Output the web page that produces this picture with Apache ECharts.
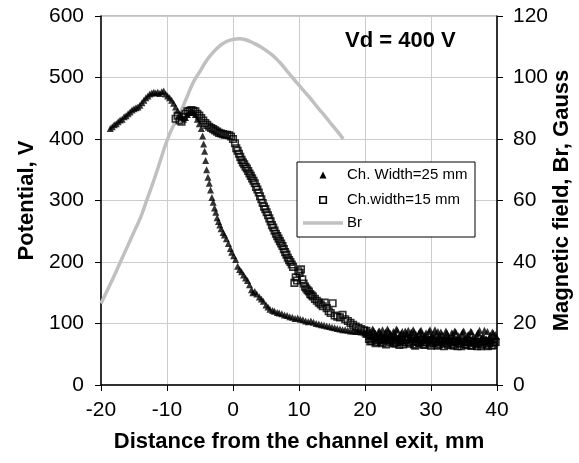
<!DOCTYPE html>
<html>
<head>
<meta charset="utf-8">
<script src="https://cdn.jsdelivr.net/npm/echarts@6/dist/echarts.min.js"></script>
<style>html,body{margin:0;padding:0;background:#fff;}#c{width:579px;height:463px;}</style>
</head>
<body>
<div id="c"></div>
<script>
// Ch. Width=25 mm : [distance mm, potential V]
var ch25 = [
[-18.6,417],[-18.3,420],[-18.0,423],[-17.7,425],[-17.4,428],[-17.1,431],[-16.8,432],[-16.5,436],[-16.2,438],[-15.9,441],
[-15.6,444],[-15.3,447],[-15.0,449],[-14.7,451],[-14.4,452],[-14.1,455],[-13.8,459],[-13.5,463],[-13.2,467],[-12.9,470],
[-12.6,473],[-12.3,475],[-12.0,476],[-11.7,475],[-11.4,476],[-11.1,474],[-10.8,477],[-10.5,478],[-10.2,473],[-9.9,470],
[-9.6,467],[-9.3,463],[-9.0,458],[-8.7,452],[-8.4,446],[-8.1,440],[-7.8,436],[-7.5,432],[-7.2,435],[-6.9,440],
[-6.6,443],[-6.3,444],[-6.0,443],[-5.7,440],[-5.4,432],[-5.1,425],[-4.8,417],[-4.6,405],[-4.45,392],[-4.3,380],
[-4.15,365],[-4.0,350],[-3.8,338],[-3.6,328],[-3.4,317],[-3.2,305],[-3.0,297],[-2.8,288],[-2.6,281],[-2.4,272],
[-2.2,266],[-2.0,260],[-1.8,254],[-1.5,248],[-1.3,244],[-1.0,238],[-0.7,230],[-0.4,222],[-0.2,216],[0.1,210],
[0.4,204],[0.7,193],[1.0,188],[1.3,184],[1.6,179],[1.9,174],[2.2,170],[2.5,163],[2.8,155],[3.0,150],
[3.3,152],[3.6,148],[4.0,143],[4.3,140],[4.6,136],[5.0,130],[5.3,127],[5.6,123],[6.0,121],[6.3,120],
[6.7,118],[7.0,117],[7.4,116],[7.8,114],[8.2,113],[8.6,111],[9.0,110],[9.4,108],[9.8,109],[10.2,107],
[10.6,106],[11.0,104],[11.4,103],[11.8,104],[12.2,102],[12.6,100],[13.0,99],[13.4,98],[13.8,97],[14.2,96],
[14.6,95],[15.0,94],[15.4,93],[15.8,92],[16.2,91],[16.6,90],[17.0,90],[17.4,89],[17.8,88],[18.2,88],
[18.6,87],[19.0,87],[19.4,86],
[19.8,86],[20.1,82],[20.4,90],[20.7,85],[21.0,80],[21.3,89],[21.6,84],[21.9,79],[22.2,88],[22.5,83],
[22.8,78],[23.1,86],[23.4,91],[23.7,81],[24.0,77],[24.3,87],[24.6,80],[24.9,89],[25.2,76],[25.5,84],
[25.8,79],[26.1,88],[26.4,82],[26.7,75],[27.0,86],[27.3,90],[27.6,78],[27.9,77],[28.2,85],[28.5,89],
[28.8,76],[29.1,81],[29.4,74],[29.7,87],[30.0,79],[30.3,83],[30.6,90],[30.9,75],[31.2,80],[31.5,86],
[31.8,73],[32.1,79],[32.4,85],[32.7,77],[33.0,73],[33.3,83],[33.6,88],[33.9,75],[34.2,80],[34.5,72],
[34.8,86],[35.1,77],[35.4,74],[35.7,82],[36.0,87],[36.3,75],[36.6,72],[36.9,80],[37.2,85],[37.5,74],
[37.8,78],[38.1,89],[38.4,75],[38.7,72],[39.0,81],[39.3,86],[39.6,73],[39.9,79],
[19.95,84],[20.25,88],[20.55,79],[20.85,86],[21.15,91],[21.45,82],[21.75,77],[22.05,87],[22.35,83],[22.65,90],
[22.95,80],[23.25,76],[23.55,88],[23.85,84],[24.15,79],[24.45,85],[24.75,91],[25.05,78],[25.35,82],[25.65,87],
[25.95,75],[26.25,84],[26.55,89],[26.85,80],[27.15,77],[27.45,86],[27.75,82],[28.05,74],[28.35,88],[28.65,83],
[28.95,79],[29.25,85],[29.55,76],[29.85,90],[30.15,81],[30.45,74],[30.75,84],[31.05,87],[31.35,78],[31.65,82],
[31.95,75],[32.25,88],[32.55,80],[32.85,73],[33.15,85],[33.45,79],[33.75,86],[34.05,76],[34.35,74],[34.65,83],
[34.95,88],[35.25,77],[35.55,81],[35.85,73],[36.15,86],[36.45,79],[36.75,75],[37.05,84],[37.35,89],[37.65,76],
[37.95,80],[38.25,74],[38.55,87],[38.85,78],[39.15,73],[39.45,84],[39.75,82]
];
// Ch.width=15 mm : [distance mm, potential V]
var ch15 = [
[-8.7,433],[-8.4,438],[-8.1,430],[-7.8,428],[-7.5,436],[-7.2,441],[-6.9,445],[-6.6,446],[-6.3,447],[-6.0,446],
[-5.7,445],[-5.4,441],[-5.1,438],[-4.8,434],[-4.5,430],[-4.2,426],[-3.9,423],[-3.6,420],[-3.3,418],[-3.0,416],
[-2.7,414],[-2.4,412],[-2.1,410],[-1.8,409],[-1.5,408],[-1.2,407],[-0.9,407],[-0.6,406],[-0.3,404],[0.0,400],
[0.3,393],[0.5,385],[0.7,381],[0.9,376],[1.1,371],[1.3,366],[1.5,362],[1.7,359],[1.9,355],[2.1,352],
[2.3,348],[2.5,344],[2.7,340],[2.9,336],[3.1,332],[3.3,328],[3.5,322],[3.7,318],[3.9,313],[4.1,307],
[4.3,302],[4.5,296],[4.7,290],[4.9,286],[5.1,281],[5.3,276],[5.5,271],[5.7,266],[5.9,260],[6.1,256],
[6.3,251],[6.5,246],[6.7,242],[6.9,238],[7.1,234],[7.3,230],[7.5,226],[7.7,221],[7.9,216],[8.1,212],
[8.3,207],[8.5,203],[8.7,200],[8.9,196],[9.1,192],[9.3,166],[9.5,175],[9.7,170],[9.9,185],[10.1,182],
[10.3,188],[10.5,172],[10.7,165],[10.9,160],[11.1,157],[11.3,154],[11.5,152],[11.7,148],[11.9,146],[12.1,144],
[12.4,140],[12.7,137],[13.0,134],[13.3,131],[13.6,128],[13.9,134],[14.2,125],[14.5,120],[14.8,117],[15.1,133],
[15.4,113],[15.8,111],[16.2,110],[16.6,114],[17.0,107],[17.4,104],[17.8,101],[18.2,98],[18.6,95],[19.0,93],
[19.4,91],[19.8,89],[20.2,88],
[20.6,75],[21.0,72],[21.4,77],[21.8,70],[22.2,74],[22.6,68],[23.0,73],[23.4,76],[23.8,69],[24.2,72],
[24.6,67],[25.0,74],[25.4,71],[25.8,66],[26.2,73],[26.6,69],[27.0,75],[27.4,66],[27.8,71],[28.2,68],
[28.6,73],[29.0,65],[29.4,70],[29.8,67],[30.2,72],[30.6,69],[31.0,64],[31.4,71],[31.8,67],[32.2,72],
[32.6,65],[33.0,69],[33.4,64],[33.8,71],[34.2,68],[34.6,63],[35.0,70],[35.4,66],[35.8,71],[36.2,64],
[36.6,68],[37.0,63],[37.4,70],[37.8,66],[38.2,71],[38.6,63],[39.0,69],[39.4,65],[39.8,70],
[20.8,71],[21.2,76],[21.6,68],[22.0,73],[22.4,70],[22.8,75],[23.2,66],[23.6,72],[24.0,74],[24.4,68],
[24.8,70],[25.2,65],[25.6,73],[26.0,69],[26.4,75],[26.8,67],[27.2,71],[27.6,64],[28.0,70],[28.4,72],
[28.8,66],[29.2,69],[29.6,73],[30.0,64],[30.4,68],[30.8,71],[31.2,66],[31.6,70],[32.0,63],[32.4,68],
[32.8,72],[33.2,66],[33.6,70],[34.0,63],[34.4,67],[34.8,71],[35.2,65],[35.6,69],[36.0,64],[36.4,70],
[36.8,66],[37.2,68],[37.6,63],[38.0,71],[38.4,65],[38.8,68],[39.2,64],[39.6,69]
];
// Br magnetic field (Gauss)
var brX = [-20,-19,-18,-17,-16,-15,-14,-13,-12,-11,-10,-9,-8,-7,-6,-5,-4,-3,-2,-1,0,1,2,3,4,5,6,7,8,9,10,11,12,13,14,15,16,16.7];
var brV = [26.5,31,35.5,40.3,45,49.8,54.5,60.5,66.5,73,79.5,84.5,88.6,93.5,98.5,102,105.5,108.2,110.3,111.7,112.4,112.6,112.2,111.3,110.2,108.8,107.2,105.1,102.6,100,97.5,95,92.5,89.8,87.3,84.6,82,80];

var seriesNames = ['Ch. Width=25 mm', 'Ch.width=15 mm', 'Br'];
var xTicks = {min:-20, max:40, interval:10};
var yTicks = {min:0, max:600, interval:100};
var y2Ticks = {min:0, max:120, interval:20};

var FONT = 'Liberation Sans, Arial, sans-serif';
var chart = echarts.init(document.getElementById('c'), null, {renderer:'canvas'});
var brData = brX.map(function(x,i){return [x, brV[i]];});

// legend box drawn as graphics (icons of different widths, as in the original)
var LX = 297, LY = 162, LW = 178, LH = 75;
var rows = [175, 200, 223];
var legendGraphics = [
  {type:'rect', shape:{x:LX, y:LY, width:LW, height:LH}, style:{fill:'#fff', stroke:'#000', lineWidth:1}, z:100},
  {type:'polygon', shape:{points:[[319.5,178.5],[326.5,178.5],[323,171.5]]}, style:{fill:'#000'}, z:101},
  {type:'rect', shape:{x:319.8, y:rows[1]-3.2, width:6.5, height:6.5}, style:{fill:'none', stroke:'#000', lineWidth:1.6}, z:101},
  {type:'line', shape:{x1:303, y1:rows[2], x2:343, y2:rows[2]}, style:{stroke:'#c0c0c0', lineWidth:3.5}, z:101}
];
seriesNames.forEach(function(n, i){
  legendGraphics.push({type:'text', x:347, y:rows[i], z:101,
    style:{text:n, font:'15px '+FONT, fill:'#000', textVerticalAlign:'middle', verticalAlign:'middle'}});
});
legendGraphics.push({type:'text', left:345, top:30, z:101, style:{text:'Vd = 400 V', font:'bold 22px '+FONT, fill:'#000'}});

chart.setOption({
  animation:false,
  backgroundColor:'#fff',
  textStyle:{fontFamily:FONT},
  grid:{left:101, right:82, top:16, bottom:78, show:true, borderColor:'#808080', borderWidth:1,
        containLabel:false, outerBoundsMode:'none'},
  graphic:legendGraphics,
  xAxis:{
    type:'value', min:xTicks.min, max:xTicks.max, interval:xTicks.interval,
    axisLine:{lineStyle:{color:'#000', width:1.5}, onZero:false},
    axisTick:{show:true, length:6, lineStyle:{color:'#000'}},
    splitLine:{show:true, lineStyle:{color:'#cccccc', width:1}},
    axisLabel:{fontSize:21, color:'#000', margin:15, fontFamily:FONT},
    name:'Distance from the channel exit, mm', nameLocation:'middle', nameGap:46, nameMoveOverlap:false,
    nameTextStyle:{fontSize:22, fontWeight:'bold', color:'#000', fontFamily:FONT}
  },
  yAxis:[{
    type:'value', min:yTicks.min, max:yTicks.max, interval:yTicks.interval, position:'left',
    axisLine:{show:true, onZero:false, lineStyle:{color:'#000', width:1.5}},
    axisTick:{show:true, length:6, lineStyle:{color:'#000'}},
    splitLine:{show:true, lineStyle:{color:'#cccccc', width:1}},
    axisLabel:{fontSize:21, color:'#000', margin:17, fontFamily:FONT},
    name:'Potential, V', nameLocation:'middle', nameGap:63, nameRotate:90, nameMoveOverlap:false,
    nameTextStyle:{fontSize:22, fontWeight:'bold', color:'#000', fontFamily:FONT}
  },{
    type:'value', min:y2Ticks.min, max:y2Ticks.max, interval:y2Ticks.interval, position:'right',
    axisLine:{show:true, onZero:false, lineStyle:{color:'#000', width:1.5}},
    axisTick:{show:true, length:6, lineStyle:{color:'#000'}},
    splitLine:{show:false},
    axisLabel:{fontSize:21, color:'#000', margin:16, fontFamily:FONT},
    name:'Magnetic field, Br, Gauss', nameLocation:'middle', nameGap:54, nameRotate:90, nameMoveOverlap:false,
    nameTextStyle:{fontSize:22, fontWeight:'bold', color:'#000', fontFamily:FONT}
  }],
  series:[
    {name:seriesNames[2], type:'line', yAxisIndex:1, data:brData, smooth:true, showSymbol:false, symbol:'none', z:1,
     lineStyle:{color:'#c0c0c0', width:3.5}, itemStyle:{color:'#c0c0c0'}},
    {name:seriesNames[0], type:'scatter', yAxisIndex:0, data:ch25, symbol:'triangle', symbolSize:7, z:3,
     itemStyle:{color:'#000'}},
    {name:seriesNames[1], type:'scatter', yAxisIndex:0, data:ch15, symbol:'rect', symbolSize:6.5, z:2,
     itemStyle:{color:'rgba(255,255,255,0)', borderColor:'#000', borderWidth:1.6}}
  ]
});
</script>
</body>
</html>
